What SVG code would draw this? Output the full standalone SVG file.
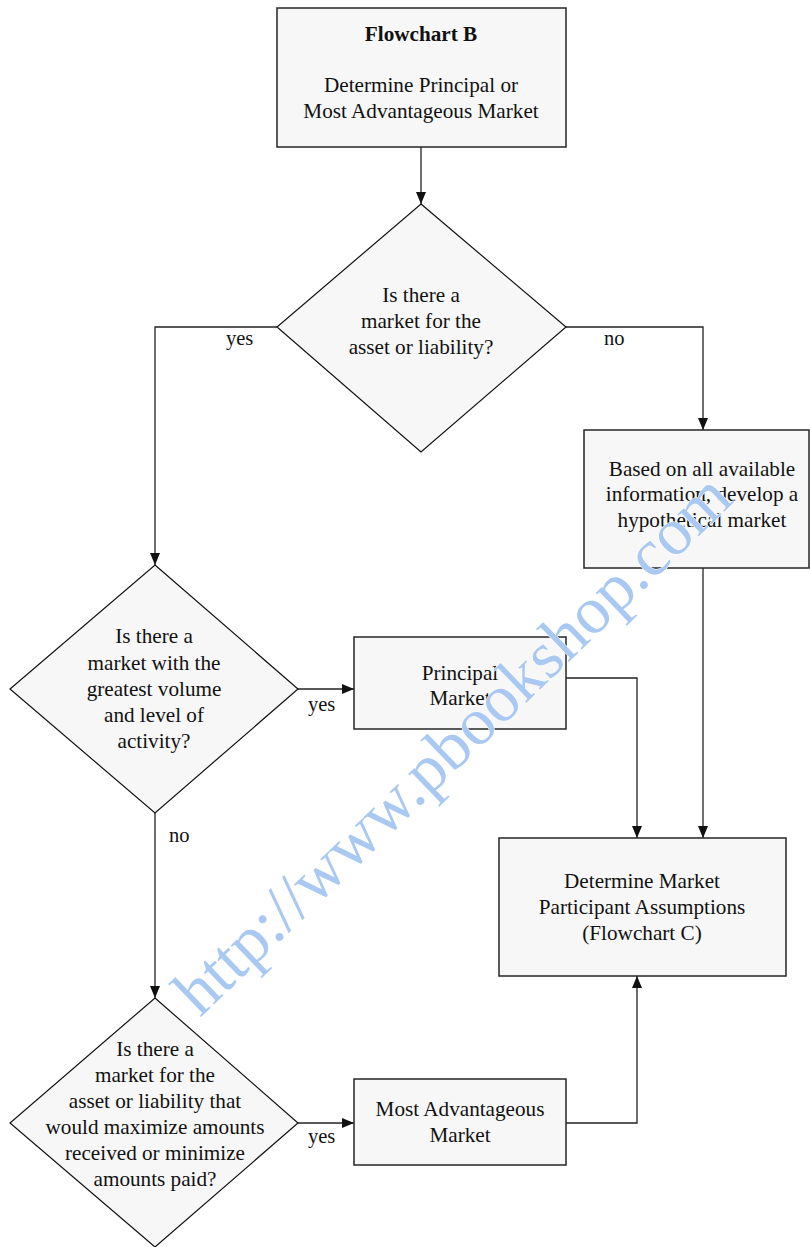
<svg xmlns="http://www.w3.org/2000/svg" width="810" height="1247" viewBox="0 0 810 1247" font-family="Liberation Serif, Times New Roman, serif">
<style>
.box{fill:#f7f7f7;stroke:#262626;stroke-width:1.5}
.dia{fill:#f7f7f7;stroke:#111;stroke-width:1.2}
.t{font-family:Liberation Serif, serif;font-size:21.2px;fill:#111;text-anchor:middle}
.lbl{font-family:Liberation Serif, serif;font-size:20.5px;fill:#111}
.c{fill:none;stroke:#222;stroke-width:1.3}
.wm{font-family:Liberation Serif, serif;font-size:67px;fill:#a9c8f2;stroke:#fff;stroke-width:1;paint-order:stroke}
</style>
<defs>
<marker id="ah" viewBox="0 0 12 10" refX="12" refY="5" markerWidth="12" markerHeight="10" markerUnits="userSpaceOnUse" orient="auto">
<path d="M0,0 L12,5 L0,10 Z" fill="#111"/>
</marker>
</defs>
<g id="connectors">
<path class="c" d="M421,147 V204" marker-end="url(#ah)"/>
<path class="c" d="M277,327 H155 V565" marker-end="url(#ah)"/>
<path class="c" d="M566,327 H703 V430" marker-end="url(#ah)"/>
<path class="c" d="M703,568 V838" marker-end="url(#ah)"/>
<path class="c" d="M298,689 H354" marker-end="url(#ah)"/>
<path class="c" d="M566,678 H637 V838" marker-end="url(#ah)"/>
<path class="c" d="M155,813 V998" marker-end="url(#ah)"/>
<path class="c" d="M298,1123 H354" marker-end="url(#ah)"/>
<path class="c" d="M566,1123 H637 V976" marker-end="url(#ah)"/>
<text class="lbl" x="226" y="345">yes</text>
<text class="lbl" x="604" y="345">no</text>
<text class="lbl" x="308" y="711">yes</text>
<text class="lbl" x="169" y="842">no</text>
<text class="lbl" x="308" y="1143">yes</text>
</g>
<g id="start">
<rect class="box" x="277" y="8" width="289" height="139"/>
<text class="t" x="421" y="41" font-weight="bold">Flowchart B</text>
<text class="t" x="421" y="92">Determine Principal or</text>
<text class="t" x="421" y="118">Most Advantageous Market</text>
</g>
<g id="q1">
<polygon class="dia" points="421,204 566,327 421,452 277,327"/>
<text class="t" x="421" y="302">Is there a</text>
<text class="t" x="421" y="328">market for the</text>
<text class="t" x="421" y="354">asset or liability?</text>
</g>
<g id="hypo">
<rect class="box" x="584" y="430" width="225" height="138"/>
<text class="t" x="702" y="476">Based on all available</text>
<text class="t" x="702" y="501">information, develop a</text>
<text class="t" x="702" y="527">hypothetical market</text>
</g>
<g id="q2">
<polygon class="dia" points="155,565 298,689 155,813 10,689"/>
<text class="t" x="154" y="643">Is there a</text>
<text class="t" x="154" y="670">market with the</text>
<text class="t" x="154" y="696">greatest volume</text>
<text class="t" x="154" y="722">and level of</text>
<text class="t" x="154" y="748">activity?</text>
</g>
<g id="principal">
<rect class="box" x="354" y="637" width="212" height="92"/>
<text class="t" x="460" y="680">Principal</text>
<text class="t" x="460" y="705">Market</text>
</g>
<g id="assumptions">
<rect class="box" x="499" y="838" width="287" height="138"/>
<text class="t" x="642" y="888">Determine Market</text>
<text class="t" x="642" y="914">Participant Assumptions</text>
<text class="t" x="642" y="940">(Flowchart C)</text>
</g>
<g id="q3">
<polygon class="dia" points="155,998 298,1123 155,1247 10,1123"/>
<text class="t" x="155" y="1056">Is there a</text>
<text class="t" x="155" y="1082">market for the</text>
<text class="t" x="155" y="1108">asset or liability that</text>
<text class="t" x="155" y="1134">would maximize amounts</text>
<text class="t" x="155" y="1160">received or minimize</text>
<text class="t" x="155" y="1186">amounts paid?</text>
</g>
<g id="advantageous">
<rect class="box" x="354" y="1079" width="212" height="86"/>
<text class="t" x="460" y="1116">Most Advantageous</text>
<text class="t" x="460" y="1142">Market</text>
</g>
<text class="wm" transform="translate(200,1018) rotate(-44)">http://www.pbookshop.com</text>
</svg>
